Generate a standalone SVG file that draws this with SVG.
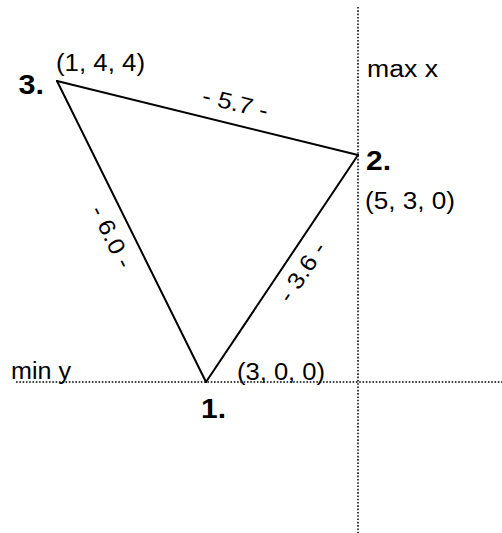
<svg xmlns="http://www.w3.org/2000/svg" width="502" height="533" viewBox="0 0 502 533">
<style>
.t{font-family:"Liberation Sans",Arial,sans-serif;font-size:23px;fill:#000}
.b{font-family:"Liberation Sans",Arial,sans-serif;font-size:28px;font-weight:bold;fill:#000}
.edge{stroke:#000;stroke-width:2;fill:none;stroke-linecap:round}
.dot{stroke:#000;stroke-width:1.5;stroke-dasharray:1.6 1.7;fill:none}
</style>
<rect width="502" height="533" fill="#fff"/>
<g id="guides">
<line class="dot" x1="358" y1="7" x2="358" y2="533"/>
<line class="dot" x1="16" y1="382" x2="502" y2="382"/>
<text class="t" x="367" y="77" textLength="71" lengthAdjust="spacingAndGlyphs">max x</text>
<text class="t" x="11" y="379" textLength="60" lengthAdjust="spacingAndGlyphs">min y</text>
</g>
<g id="connectors">
<line class="edge" x1="57" y1="81" x2="358" y2="155"/>
<line class="edge" x1="358" y1="155" x2="206" y2="382"/>
<line class="edge" x1="206" y1="382" x2="57" y2="81"/>
<text class="t" transform="translate(235.5,103) rotate(13.8)" x="0" y="8" text-anchor="middle" textLength="67" lengthAdjust="spacingAndGlyphs">- 5.7 -</text>
<text class="t" transform="translate(111.7,236.7) rotate(63.7)" x="0" y="8" text-anchor="middle" textLength="67" lengthAdjust="spacingAndGlyphs">- 6.0 -</text>
<text class="t" transform="translate(302,271.7) rotate(-56.2)" x="0" y="8" text-anchor="middle" textLength="67" lengthAdjust="spacingAndGlyphs">- 3.6 -</text>
</g>
<g id="node1">
<text class="b" x="201" y="418" textLength="25" lengthAdjust="spacingAndGlyphs">1.</text>
<text class="t" x="237" y="379.5" textLength="88" lengthAdjust="spacingAndGlyphs">(3, 0, 0)</text>
</g>
<g id="node2">
<text class="b" x="366" y="169.5" textLength="25" lengthAdjust="spacingAndGlyphs">2.</text>
<text class="t" x="365" y="208.5" textLength="90" lengthAdjust="spacingAndGlyphs">(5, 3, 0)</text>
</g>
<g id="node3">
<text class="b" x="18.5" y="93.5" textLength="25.5" lengthAdjust="spacingAndGlyphs">3.</text>
<text class="t" x="56" y="70.5" textLength="89" lengthAdjust="spacingAndGlyphs">(1, 4, 4)</text>
</g>
</svg>
